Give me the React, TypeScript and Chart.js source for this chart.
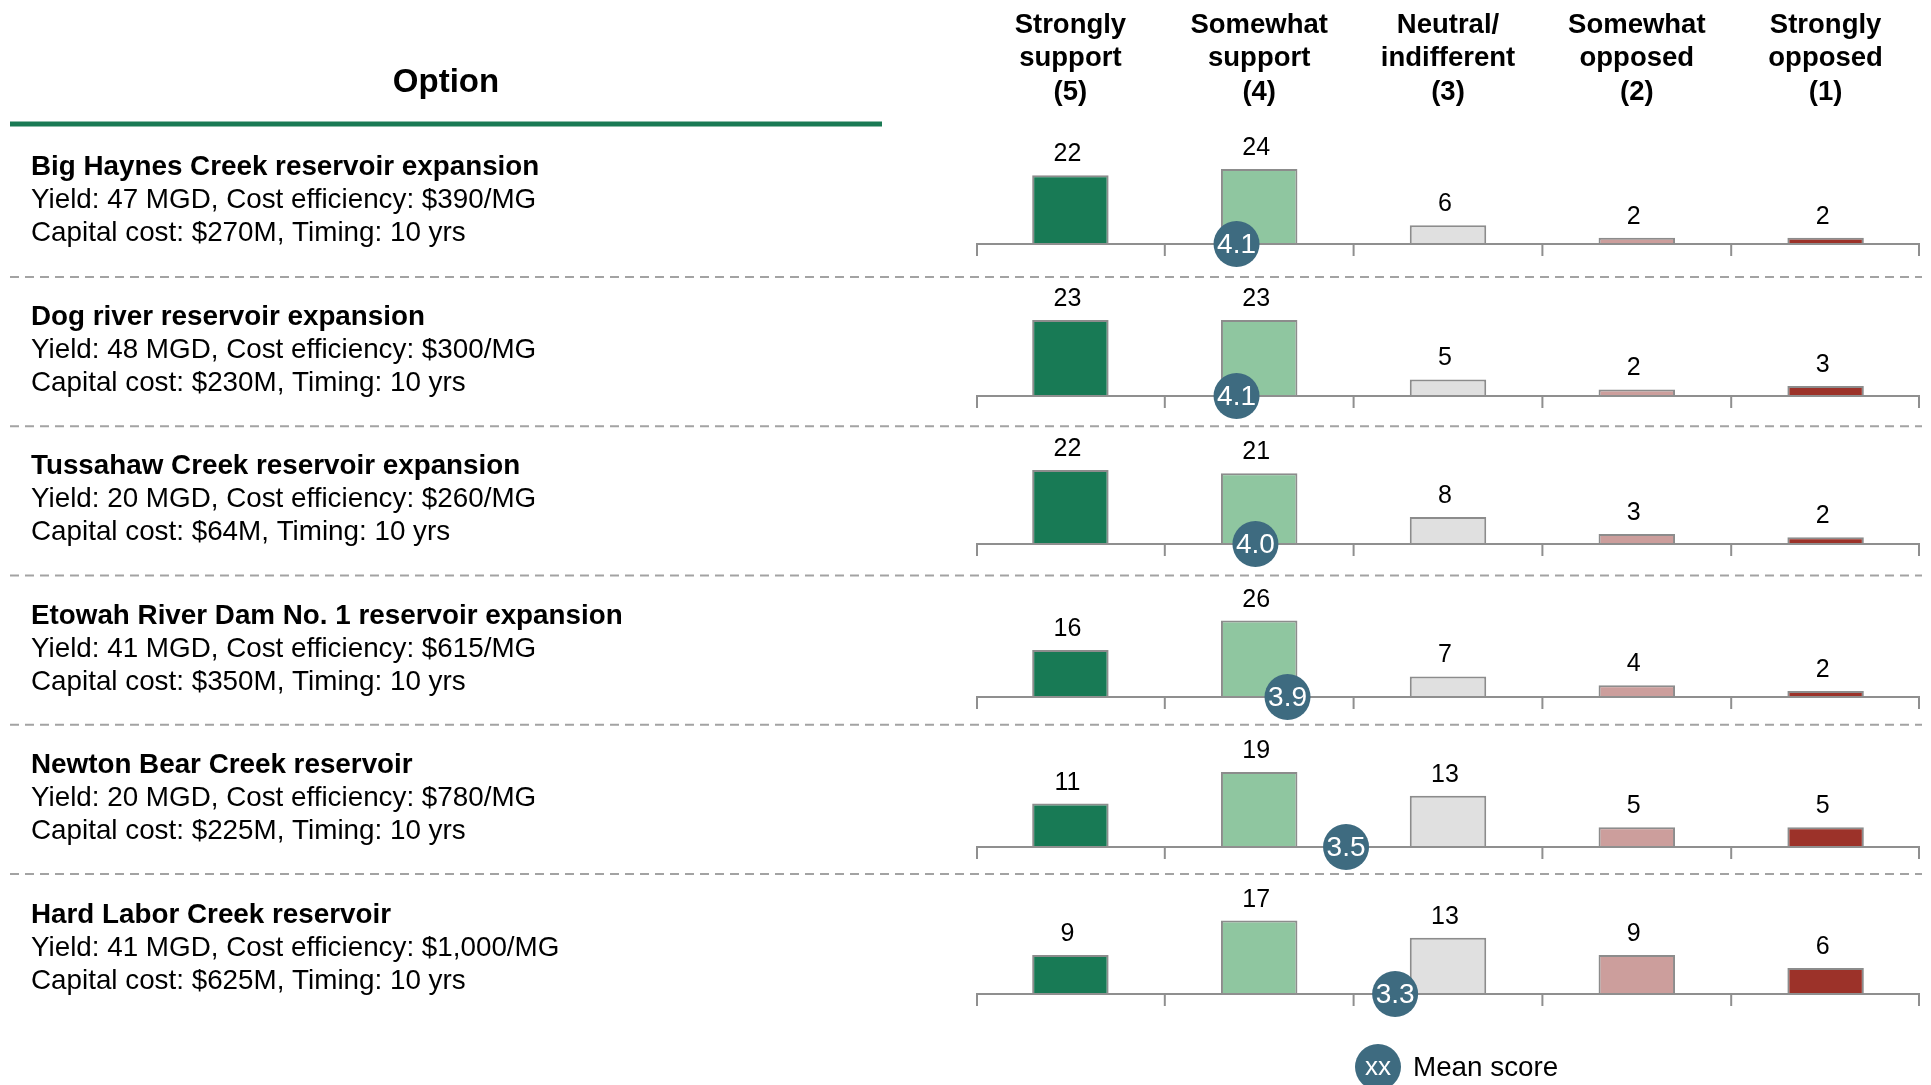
import React, { useEffect, useRef } from 'react';
import { Chart, registerables } from 'chart.js';

Chart.register(...registerables);

// ---------------- data ----------------
const categories = ['Strongly support (5)', 'Somewhat support (4)', 'Neutral/ indifferent (3)', 'Somewhat opposed (2)', 'Strongly opposed (1)'];
const categoryHeaderLines = [
  ['Strongly', 'support', '(5)'],
  ['Somewhat', 'support', '(4)'],
  ['Neutral/', 'indifferent', '(3)'],
  ['Somewhat', 'opposed', '(2)'],
  ['Strongly', 'opposed', '(1)'],
];

const optionNames = [
  'Big Haynes Creek reservoir expansion',
  'Dog river reservoir expansion',
  'Tussahaw Creek reservoir expansion',
  'Etowah River Dam No. 1 reservoir expansion',
  'Newton Bear Creek reservoir',
  'Hard Labor Creek reservoir',
];
const yieldMGD = [47, 48, 20, 41, 20, 41];
const costEfficiency = ['$390', '$300', '$260', '$615', '$780', '$1,000'];
const capitalCost = ['$270M', '$230M', '$64M', '$350M', '$225M', '$625M'];
const timingYrs = [10, 10, 10, 10, 10, 10];

const bigHaynesCreek = [22, 24, 6, 2, 2];
const dogRiver = [23, 23, 5, 2, 3];
const tussahawCreek = [22, 21, 8, 3, 2];
const etowahRiverDam = [16, 26, 7, 4, 2];
const newtonBearCreek = [11, 19, 13, 5, 5];
const hardLaborCreek = [9, 17, 13, 9, 6];

const meanScores = [4.12, 4.12, 4.02, 3.85, 3.54, 3.28];

const rows = [bigHaynesCreek, dogRiver, tussahawCreek, etowahRiverDam, newtonBearCreek, hardLaborCreek];

// ---------------- layout / style ----------------
const W = 1931;
const H = 1085;
const rowWeights = [150, 152, 148, 153, 150, 147];
const FONT = "'Liberation Sans', Arial, Helvetica, sans-serif";
const barColors = ['#187a55', '#8fc6a0', '#e0e0e0', '#cc9e9c', '#9c3229'];
const meanColor = '#3e6b80';
const axisColor = '#8f8f8f';

const overlayPlugin = {
  id: 'overlay',
  beforeDatasetsDraw(chart: any) {
    const ctx = chart.ctx as CanvasRenderingContext2D;
    ctx.save();
    ctx.fillStyle = '#000';
    ctx.textBaseline = 'alphabetic';

    // "Option" header
    ctx.textAlign = 'center';
    ctx.font = `bold 33px ${FONT}`;
    ctx.fillText('Option', 446, 92);

    // green rule
    ctx.fillStyle = '#1a7a54';
    ctx.fillRect(10, 121.5, 872, 5);

    // category headers
    const xs = chart.scales.x;
    ctx.fillStyle = '#000';
    ctx.font = `bold 27.5px ${FONT}`;
    categoryHeaderLines.forEach((lines, k) => {
      const cx = xs.getPixelForValue(k);
      lines.forEach((t, l) => ctx.fillText(t, cx, 32.5 + l * 33.5));
    });

    // dashed separators
    ctx.strokeStyle = '#a3a3a3';
    ctx.lineWidth = 2;
    ctx.setLineDash([9, 6]);
    for (let i = 0; i < rows.length - 1; i++) {
      const y = 277 + i * 149.25;
      ctx.beginPath();
      ctx.moveTo(10, y);
      ctx.lineTo(1922, y);
      ctx.stroke();
    }
    ctx.setLineDash([]);

    // option descriptions
    ctx.textAlign = 'left';
    ctx.fillStyle = '#000';
    rows.forEach((_, i) => {
      const y0 = 175 + i * 149.5;
      ctx.font = `bold 27.8px ${FONT}`;
      ctx.fillText(optionNames[i], 31, y0);
      ctx.font = `27.8px ${FONT}`;
      ctx.fillText(`Yield: ${yieldMGD[i]} MGD, Cost efficiency: ${costEfficiency[i]}/MG`, 31, y0 + 33);
      ctx.fillText(`Capital cost: ${capitalCost[i]}, Timing: ${timingYrs[i]} yrs`, 31, y0 + 66);
    });
    ctx.restore();
  },
  beforeDatasetDraw(chart: any, args: any) {
    if (args.index < rows.length) return;
    const i = args.index - rows.length;
    const ctx = chart.ctx as CanvasRenderingContext2D;
    const ys = chart.scales[`y${i}`];
    const xs = chart.scales.x;
    const { left, right } = chart.chartArea;
    const y = ys.getPixelForValue(0);
    ctx.save();
    ctx.strokeStyle = axisColor;
    ctx.lineWidth = 2;
    ctx.beginPath();
    ctx.moveTo(left, y);
    ctx.lineTo(right, y);
    ctx.stroke();
    const n = categories.length;
    for (let k = 0; k <= n; k++) {
      let bx: number;
      if (k === 0) bx = left + 1;
      else if (k === n) bx = right - 1;
      else bx = (xs.getPixelForValue(k - 1) + xs.getPixelForValue(k)) / 2;
      ctx.beginPath();
      ctx.moveTo(bx, y);
      ctx.lineTo(bx, y + 12);
      ctx.stroke();
    }
    ctx.restore();
  },
  afterDatasetsDraw(chart: any) {
    const ctx = chart.ctx as CanvasRenderingContext2D;
    ctx.save();
    // bar value labels
    ctx.fillStyle = '#000';
    ctx.textAlign = 'center';
    ctx.textBaseline = 'alphabetic';
    ctx.font = `25px ${FONT}`;
    rows.forEach((r, i) => {
      const meta = chart.getDatasetMeta(i);
      meta.data.forEach((bar: any, j: number) => {
        ctx.fillText(String(r[j]), bar.x - 3, bar.y - 14);
      });
    });
    // mean labels
    ctx.fillStyle = '#fff';
    ctx.textBaseline = 'middle';
    ctx.font = `28px ${FONT}`;
    meanScores.forEach((m, i) => {
      const meta = chart.getDatasetMeta(rows.length + i);
      const p = meta.data[0];
      ctx.fillText(m.toFixed(1), p.x, p.y + 1);
    });
    // legend
    ctx.fillStyle = meanColor;
    ctx.beginPath();
    ctx.arc(1378, 1067, 23, 0, Math.PI * 2);
    ctx.fill();
    ctx.fillStyle = '#fff';
    ctx.font = `26px ${FONT}`;
    ctx.fillText('xx', 1378, 1068);
    ctx.fillStyle = '#000';
    ctx.textAlign = 'left';
    ctx.textBaseline = 'alphabetic';
    ctx.font = `27.8px ${FONT}`;
    ctx.fillText('Mean score', 1413, 1076);
    ctx.restore();
  },
};

export default function App() {
  const ref = useRef<HTMLCanvasElement>(null);

  useEffect(() => {
    const canvas = ref.current;
    if (!canvas) return;

    const scales: Record<string, any> = {
      x: { type: 'category', labels: categories, offset: true, display: false },
      xm: { type: 'linear', min: 0.5, max: 5.5, reverse: true, offset: false, grace: 0, display: false, position: 'bottom' },
    };
    rows.forEach((r, i) => {
      scales[`y${i}`] = {
        type: 'linear',
        position: 'left',
        stack: 'rows',
        stackWeight: rowWeights[i],
        weight: rows.length - i,
        min: 0,
        max: Math.max(...r) * 2,
        display: false,
      };
    });

    const barDatasets = rows.map((r, i) => ({
      type: 'bar',
      label: optionNames[i],
      data: r,
      xAxisID: 'x',
      yAxisID: `y${i}`,
      backgroundColor: barColors,
      borderColor: '#8c8c8c',
      borderWidth: 2,
      grouped: false,
      barPercentage: 0.405,
      categoryPercentage: 1,
      clip: false,
      order: 1,
    }));

    const meanDatasets = meanScores.map((m, i) => ({
      type: 'scatter',
      label: 'Mean score',
      data: [{ x: m, y: 0 }],
      xAxisID: 'xm',
      yAxisID: `y${i}`,
      pointRadius: 23,
      pointHoverRadius: 23,
      pointBackgroundColor: meanColor,
      pointBorderColor: meanColor,
      pointBorderWidth: 0,
      showLine: false,
      clip: false,
      order: 0,
    }));

    const chart = new Chart(canvas, {
      type: 'bar',
      data: { labels: categories, datasets: [...barDatasets, ...meanDatasets] as any },
      options: {
        responsive: false,
        animation: false,
        devicePixelRatio: 1,
        events: [],
        layout: { padding: { left: 976, right: 11, top: 94, bottom: 91 }, autoPadding: false },
        plugins: { legend: { display: false }, tooltip: { enabled: false } },
        scales,
      } as any,
      plugins: [overlayPlugin],
    });

    return () => chart.destroy();
  }, []);

  return (
    <div style={{ position: 'absolute', left: 0, top: 0, width: W, height: H, background: '#fff' }}>
      <canvas ref={ref} width={W} height={H} style={{ display: 'block', width: W, height: H }} />
    </div>
  );
}
